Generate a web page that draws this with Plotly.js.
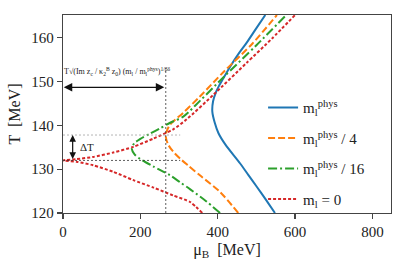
<!DOCTYPE html>
<html>
<head>
<meta charset="utf-8">
<script src="https://cdn.plot.ly/plotly-3.0.1.min.js"></script>
<style>html,body{margin:0;padding:0;background:#fff;}#chart{width:407px;height:271px;}</style>
</head>
<body>
<div id="chart"></div>
<script>
// m_l^phys (blue)
const muPhys = [548, 524, 501, 479, 458, 420, 402, 392, 386, 388, 395, 402, 415, 432, 455, 475, 497, 523];
const tPhys  = [120, 123.1, 126.0, 128.7, 131.3, 135.6, 138.2, 140.7, 143.2, 145.5, 147.5, 148.8, 150.8, 153.4, 156.5, 158.9, 161.8, 165.2];
// m_l^phys / 4 (orange)
const muQ4 = [453, 406, 354, 324, 303, 285, 272, 266, 268, 277, 311, 354, 415, 490, 553];
const tQ4  = [120, 124.8, 128.6, 130.8, 132.4, 134.0, 135.6, 137.3, 138.6, 140.2, 142.9, 146.6, 152.2, 158.7, 165.2];
// m_l^phys / 16 (green)
const muQ16 = [406, 370, 329, 303, 277, 234, 200, 185, 178, 184, 200, 225, 250, 277, 311, 354, 415, 500, 577];
const tQ16  = [120, 122.7, 125.4, 127.0, 128.6, 130.6, 132.3, 133.4, 134.6, 135.9, 136.9, 138.1, 139.3, 140.6, 142.0, 145.6, 151.0, 158.3, 165.2];
// m_l = 0 (red)
const muZero = [360, 329, 285, 234, 182, 130, 78, 35, 0, 35, 78, 130, 182, 234, 285, 320, 389, 475, 540, 600];
const tZero  = [120, 122.5, 124.0, 125.8, 127.5, 129.4, 130.9, 131.7, 132.0, 132.3, 132.8, 133.8, 135.1, 137.0, 139.1, 141.4, 147.0, 154.3, 159.8, 165.2];

const legendNames = ['m<sub>l</sub><sup>phys</sup>', 'm<sub>l</sub><sup>phys</sup> / 4', 'm<sub>l</sub><sup>phys</sup> / 16', 'm<sub>l</sub> = 0'];
const xTicks = [0, 200, 400, 600, 800];
const yTicks = [120, 130, 140, 150, 160];

// reference markers
const muCross = 265.7;   // vertical dashed line position
const tCrossTop = 153.1;
const tZeroCEP = 132.0;  // chiral T at mu=0
const tNose = 137.8;     // gray dotted line
const tArrow = 148.7;
const muDeltaT = 25;

const F = "'Liberation Serif', 'Times New Roman', serif";

const traces = [
  {x: muPhys, y: tPhys, name: legendNames[0], legendgroup: 'a', mode: 'lines', line: {color: '#1f77b4', width: 2, shape: 'spline', smoothing: 0.8}},
  {x: muQ4, y: tQ4, name: legendNames[1], legendgroup: 'b', mode: 'lines', line: {color: '#ff7f0e', width: 2, dash: '7px,3px', shape: 'spline', smoothing: 0.8}},
  {x: muQ16, y: tQ16, name: legendNames[2], legendgroup: 'c', mode: 'lines', line: {color: '#2ca02c', width: 2, dash: '9px,3px,2px,3px', shape: 'spline', smoothing: 0.8}},
  {x: muZero, y: tZero, name: legendNames[3], legendgroup: 'd', mode: 'lines', line: {color: '#d62728', width: 2, dash: '3px,2px', shape: 'spline', smoothing: 0.6}}
];

const layout = {
  width: 407, height: 271,
  margin: {l: 63, r: 16, t: 15, b: 58},
  paper_bgcolor: '#fff', plot_bgcolor: '#fff',
  font: {family: F, size: 15, color: '#222'},
  showlegend: true,
  legend: {x: 0.61, y: 0.615, xanchor: 'left', yanchor: 'top', bgcolor: 'rgba(0,0,0,0)', borderwidth: 0,
           font: {family: F, size: 15, color: '#222'}, tracegroupgap: 8},
  xaxis: {range: [0, 848], tickvals: xTicks, ticktext: xTicks.map(String), ticks: 'outside', ticklen: 5, tickwidth: 1.2, tickcolor: '#444',
          showgrid: false, zeroline: false, showline: true, linecolor: '#444', linewidth: 1.3, mirror: true,
          tickfont: {family: F, size: 15, color: '#222'},
          title: {text: 'μ<sub>B</sub>  [MeV]', font: {family: F, size: 16, color: '#222'}, standoff: 4}},
  yaxis: {range: [120, 165.2], tickvals: yTicks, ticktext: yTicks.map(String), ticks: 'outside', ticklen: 5, tickwidth: 1.2, tickcolor: '#444',
          showgrid: false, zeroline: false, showline: true, linecolor: '#444', linewidth: 1.3, mirror: true,
          tickfont: {family: F, size: 15, color: '#222'},
          title: {text: 'T  [MeV]', font: {family: F, size: 16, color: '#222'}, standoff: 6}},
  shapes: [
    {type: 'line', xref: 'x', yref: 'y', x0: muCross, x1: muCross, y0: 120, y1: tCrossTop, line: {color: '#333', width: 0.8, dash: '2px,2px'}},
    {type: 'line', xref: 'x', yref: 'y', x0: 0, x1: 303, y0: tZeroCEP, y1: tZeroCEP, line: {color: '#333', width: 0.8, dash: '2px,2px'}},
    {type: 'line', xref: 'x', yref: 'y', x0: 0, x1: 303, y0: tNose, y1: tNose, line: {color: '#aaa', width: 0.9, dash: '2px,2px'}}
  ],
  annotations: [
    {xref: 'x', yref: 'y', axref: 'x', ayref: 'y', x: 2, y: tArrow, ax: muCross, ay: tArrow, text: '', showarrow: true,
     arrowhead: 2, startarrowhead: 2, arrowside: 'end+start', arrowsize: 1.3, arrowwidth: 1.3, arrowcolor: '#111', startstandoff: 0, standoff: 0},
    {xref: 'x', yref: 'y', axref: 'x', ayref: 'y', x: muDeltaT, y: tNose, ax: muDeltaT, ay: tZeroCEP, text: '', showarrow: true,
     arrowhead: 2, startarrowhead: 2, arrowside: 'end+start', arrowsize: 1.1, arrowwidth: 1.2, arrowcolor: '#111'},
    {xref: 'x', yref: 'y', x: 38, y: 135.0, xanchor: 'left', yanchor: 'middle', showarrow: false, text: 'ΔT',
     font: {family: F, size: 11, color: '#222'}},
    {xref: 'x', yref: 'y', x: 140, y: 152.3, xanchor: 'center', yanchor: 'middle', showarrow: false,
     text: 'T√(Im z<sub>c</sub> / κ<sub>2</sub><sup>B</sup> z<sub>0</sub>) (m<sub>l</sub> / m<sub>l</sub><sup>phys</sup>)<sup>1/βδ</sup>',
     font: {family: F, size: 8, color: '#222'}}
  ]
};

Plotly.newPlot('chart', traces, layout, {displayModeBar: false, staticPlot: true});
</script>
</body>
</html>
